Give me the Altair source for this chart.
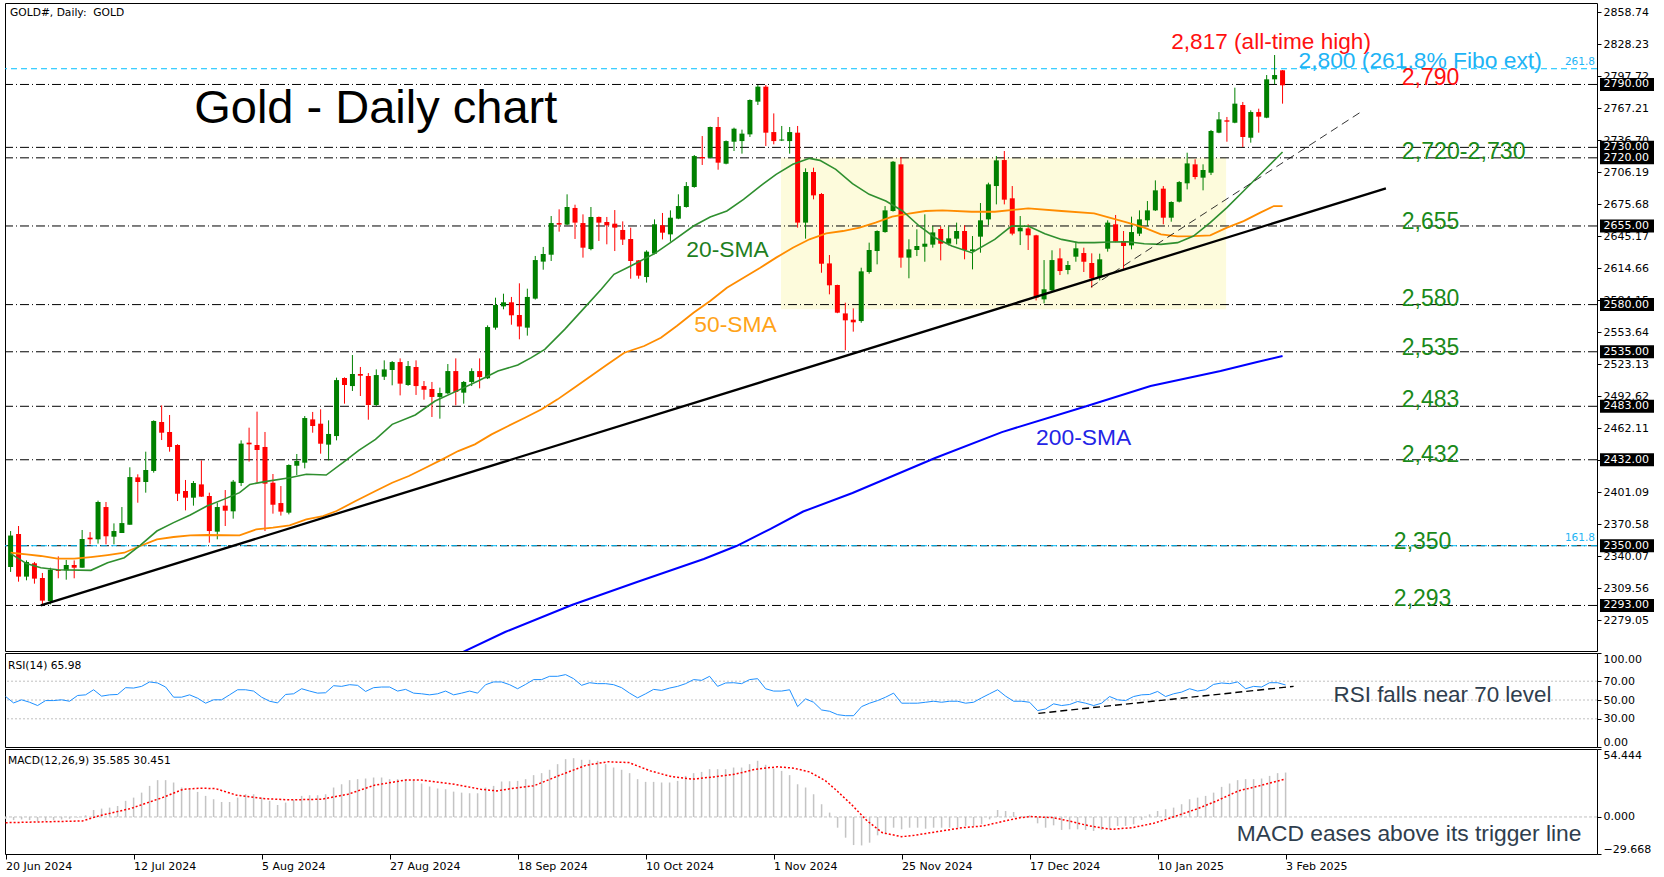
import altair as alt
import pandas as pd

# ---------------- data ----------------
# bar index 0 = 20 Jun 2024, one bar per weekday, last bar 160 = 3 Feb 2025
opens = [2329.7, 2361.2, 2320.5, 2333.2, 2319.2, 2297.2, 2326.8, 2326.5, 2331.6, 2329.0,
         2357.7, 2356.1, 2386.9, 2358.6, 2362.1, 2370.0, 2415.2, 2410.8, 2421.3, 2468.0,
         2458.5, 2446.1, 2402.2, 2395.8, 2408.5, 2397.4, 2363.4, 2388.2, 2382.8, 2409.8,
         2448.3, 2446.1, 2444.2, 2410.1, 2390.7, 2381.5, 2426.3, 2429.2, 2470.5, 2466.4,
         2446.4, 2454.6, 2510.0, 2502.3, 2513.8, 2511.9, 2484.2, 2511.2, 2517.6, 2525.2,
         2503.3, 2520.5, 2502.3, 2499.5, 2491.9, 2495.4, 2516.6, 2496.0, 2506.2, 2516.6,
         2509.7, 2558.0, 2578.3, 2582.2, 2570.1, 2558.0, 2585.7, 2621.0, 2627.6, 2657.8,
         2656.3, 2672.2, 2657.8, 2633.0, 2663.6, 2658.8, 2657.2, 2651.2, 2642.6, 2622.2,
         2606.3, 2628.6, 2655.6, 2647.0, 2662.0, 2673.1, 2692.2, 2720.8, 2720.2, 2749.4,
         2714.4, 2735.4, 2736.0, 2742.4, 2773.6, 2787.9, 2744.6, 2736.5, 2736.0, 2744.0,
         2658.2, 2706.5, 2685.5, 2619.3, 2598.7, 2571.6, 2565.6, 2564.3, 2611.1, 2631.1,
         2649.2, 2669.3, 2713.8, 2624.8, 2632.1, 2635.2, 2637.2, 2652.1, 2638.1, 2642.9,
         2650.2, 2631.1, 2644.8, 2661.3, 2693.1, 2717.9, 2681.4, 2649.9, 2652.7, 2646.1,
         2585.0, 2593.6, 2624.1, 2613.0, 2625.7, 2629.2, 2619.7, 2606.3, 2633.3, 2656.6,
         2640.7, 2636.5, 2647.7, 2660.4, 2669.9, 2690.6, 2662.9, 2678.2, 2695.7, 2713.8,
         2701.1, 2705.8, 2744.0, 2755.8, 2753.5, 2770.4, 2739.2, 2763.7, 2758.3, 2794.9,
         2803.5]
highs = [2364.0, 2368.8, 2336.0, 2334.5, 2324.0, 2329.0, 2339.8, 2336.4, 2336.0, 2365.0,
         2363.0, 2393.0, 2391.7, 2371.3, 2386.9, 2424.8, 2418.1, 2439.7, 2469.6, 2483.9,
         2474.7, 2446.8, 2412.7, 2411.7, 2431.4, 2400.6, 2391.0, 2403.1, 2412.7, 2450.5,
         2462.6, 2477.9, 2458.5, 2418.4, 2406.9, 2427.6, 2437.5, 2473.7, 2477.6, 2480.1,
         2469.6, 2510.3, 2510.6, 2531.9, 2520.5, 2514.7, 2518.2, 2526.8, 2526.2, 2528.7,
         2526.2, 2526.8, 2507.1, 2506.2, 2500.8, 2523.3, 2528.7, 2507.1, 2519.2, 2528.7,
         2560.2, 2586.6, 2590.4, 2587.3, 2600.3, 2595.2, 2626.4, 2635.0, 2664.5, 2670.9,
         2685.2, 2675.3, 2666.1, 2673.1, 2664.0, 2663.6, 2670.2, 2659.4, 2653.4, 2622.5,
         2631.8, 2661.3, 2667.4, 2669.9, 2685.2, 2696.9, 2722.7, 2740.8, 2749.8, 2759.0,
         2736.6, 2748.8, 2746.9, 2775.8, 2789.5, 2789.5, 2762.4, 2750.4, 2749.4, 2750.4,
         2710.0, 2710.6, 2686.4, 2627.3, 2599.0, 2581.8, 2576.4, 2615.2, 2639.1, 2650.8,
         2674.0, 2717.0, 2720.8, 2642.3, 2651.8, 2666.1, 2655.0, 2654.6, 2654.6, 2658.2,
         2655.6, 2645.4, 2676.9, 2696.3, 2721.7, 2726.5, 2693.1, 2664.5, 2656.6, 2646.6,
         2622.5, 2631.8, 2633.7, 2621.6, 2640.0, 2634.3, 2628.9, 2628.6, 2660.4, 2665.5,
         2650.2, 2663.9, 2669.9, 2678.8, 2698.5, 2693.1, 2678.5, 2697.8, 2724.9, 2718.6,
         2713.8, 2746.6, 2763.7, 2759.0, 2786.9, 2773.3, 2765.3, 2766.9, 2799.0, 2818.1,
         2803.8]
lows = [2325.0, 2315.7, 2317.0, 2313.8, 2294.0, 2294.0, 2318.9, 2317.6, 2318.9, 2329.0,
        2351.3, 2352.0, 2351.3, 2351.3, 2362.1, 2370.0, 2391.0, 2400.6, 2419.7, 2450.8,
        2439.7, 2392.6, 2383.7, 2388.2, 2396.5, 2352.9, 2356.1, 2368.8, 2375.8, 2406.9,
        2430.2, 2410.1, 2364.0, 2380.6, 2378.7, 2379.9, 2417.4, 2423.8, 2457.8, 2437.8,
        2431.4, 2450.5, 2485.5, 2497.6, 2492.8, 2470.2, 2483.3, 2508.1, 2503.0, 2493.4,
        2502.5, 2493.8, 2489.3, 2472.8, 2471.2, 2494.6, 2483.9, 2485.5, 2502.3, 2500.1,
        2509.0, 2556.1, 2575.5, 2560.8, 2546.9, 2550.4, 2584.8, 2613.3, 2621.6, 2649.6,
        2655.7, 2642.6, 2624.8, 2631.8, 2640.7, 2637.5, 2631.1, 2636.9, 2604.7, 2604.7,
        2601.0, 2628.0, 2642.2, 2640.0, 2661.5, 2672.5, 2691.5, 2713.2, 2719.6, 2708.7,
        2713.8, 2726.5, 2724.0, 2739.9, 2770.4, 2731.3, 2732.9, 2736.0, 2724.0, 2653.4,
        2642.9, 2680.4, 2610.4, 2589.8, 2571.8, 2536.4, 2554.2, 2562.7, 2609.5, 2618.4,
        2648.6, 2668.7, 2615.2, 2605.1, 2626.3, 2620.9, 2634.3, 2622.2, 2636.5, 2637.5,
        2623.2, 2613.6, 2629.5, 2655.9, 2675.6, 2675.6, 2646.1, 2636.8, 2632.1, 2584.0,
        2581.2, 2593.0, 2608.2, 2608.9, 2620.9, 2611.1, 2596.1, 2603.1, 2630.5, 2639.5,
        2613.6, 2632.7, 2645.4, 2655.0, 2669.3, 2656.6, 2659.1, 2677.5, 2689.9, 2699.5,
        2689.0, 2703.6, 2743.5, 2735.4, 2753.0, 2730.3, 2734.5, 2744.0, 2757.8, 2790.1,
        2771.7]
closes = [2359.7, 2320.5, 2334.5, 2318.6, 2297.6, 2327.1, 2325.9, 2331.6, 2329.0, 2356.4,
          2356.1, 2391.7, 2359.0, 2364.0, 2371.6, 2415.5, 2410.8, 2422.2, 2469.0, 2457.8,
          2444.2, 2399.6, 2395.8, 2409.8, 2396.8, 2364.0, 2386.9, 2383.4, 2411.1, 2447.4,
          2446.7, 2441.3, 2409.2, 2389.1, 2382.5, 2427.0, 2430.8, 2471.8, 2464.2, 2447.3,
          2456.6, 2508.0, 2503.3, 2513.8, 2512.2, 2484.2, 2512.8, 2518.2, 2525.2, 2504.6,
          2521.4, 2502.3, 2498.8, 2491.9, 2495.7, 2516.6, 2496.6, 2506.2, 2516.6, 2510.9,
          2558.6, 2579.6, 2582.2, 2569.8, 2559.0, 2587.3, 2622.5, 2628.3, 2657.8, 2656.3,
          2673.1, 2658.2, 2634.3, 2663.6, 2658.2, 2655.6, 2653.4, 2642.0, 2621.6, 2607.6,
          2630.5, 2656.6, 2648.6, 2662.9, 2674.0, 2693.1, 2721.7, 2719.5, 2749.4, 2715.4,
          2736.0, 2747.8, 2743.1, 2775.2, 2787.9, 2744.0, 2736.0, 2737.5, 2744.6, 2658.2,
          2706.5, 2684.2, 2619.0, 2598.4, 2572.3, 2565.0, 2563.1, 2611.7, 2632.1, 2650.2,
          2669.9, 2716.3, 2624.8, 2632.7, 2635.9, 2638.1, 2648.9, 2638.1, 2643.2, 2650.2,
          2632.1, 2632.7, 2660.4, 2694.7, 2717.6, 2680.1, 2647.7, 2653.4, 2646.1, 2586.6,
          2594.6, 2622.5, 2612.0, 2617.8, 2633.7, 2620.9, 2605.0, 2623.2, 2658.2, 2640.0,
          2635.9, 2649.2, 2661.3, 2669.9, 2689.0, 2662.9, 2677.9, 2696.9, 2714.7, 2701.7,
          2708.4, 2745.6, 2756.7, 2754.5, 2771.7, 2739.9, 2763.7, 2759.3, 2794.9, 2799.0,
          2789.2]

sma20_bar = [0, 2, 3.8, 5.9, 10.1, 12.2, 14.3, 16.3, 18.4, 20.5, 22.6, 24.7, 26.8, 28.8, 30.1,
             32, 35.1, 37.2, 39.7, 41.8, 43.8, 45.9, 48, 50.9, 53.4, 56.3, 58.8, 61.3, 63.8, 65.5,
             67.2, 69.7, 72.2, 74.3, 75.9, 78, 81, 83, 85.9, 88, 90.1, 92.2, 94.3, 96.3, 98.4,
             100.5, 101.8, 103.8, 105.9, 108, 110.1, 112.2, 114.3, 116.3, 118.4, 120.9, 123.8,
             125.9, 128, 130.1, 132.2, 134.3, 136.3, 138.4, 140.5, 142.6, 144.7, 146.8, 148.8,
             150.9, 153, 155.1, 157.2, 160]
sma20_val = [2342.4, 2332.9, 2329.0, 2327.1, 2326.5, 2333.8, 2338.6, 2350.3, 2364.0, 2372.0,
             2379.3, 2387.9, 2394.2, 2400.6, 2408.5, 2411.1, 2414.9, 2418.1, 2417.4, 2429.2,
             2441.0, 2451.5, 2465.8, 2474.7, 2488.0, 2498.2, 2507.1, 2516.6, 2522.4, 2529.4,
             2537.3, 2556.4, 2577.1, 2594.6, 2608.9, 2616.8, 2628.6, 2639.1, 2655.0, 2663.6,
             2669.3, 2680.4, 2693.1, 2704.3, 2713.8, 2719.5, 2717.6, 2709.0, 2695.4, 2685.2,
             2678.8, 2669.3, 2655.0, 2643.8, 2635.9, 2629.5, 2642.2, 2654.9, 2654.9, 2647.7,
             2642.2, 2639.1, 2639.1, 2639.7, 2640.0, 2638.1, 2637.5, 2639.1, 2645.4, 2658.2,
             2672.5, 2688.4, 2704.3, 2725.6]

sma50_bar = [0, 2, 3.8, 5.9, 8, 10.1, 12.2, 14.3, 16.3, 18.4, 20.5, 22.6, 24.7, 28.8, 30.9,
             33, 35.1, 37.2, 39.3, 41, 43.4, 45.9, 48, 50.1, 52.2, 54.3, 56.3, 58.4, 60.5, 62.6,
             64.7, 66.8, 68.8, 70.9, 73, 75.1, 77.2, 79.7, 81.8, 83.8, 85.9, 88, 90.1, 92.2, 94.3,
             96.3, 98.4, 100.5, 102.6, 104.7, 106.8, 108.8, 110.9, 113, 115.1, 117.2, 120.9,
             123.8, 128, 132.2, 136.3, 140.5, 142.6, 144.7, 146.8, 148.8, 150.9, 153, 155.1,
             157.2, 158.9, 160]
sma50_val = [2343.3, 2341.7, 2340.2, 2337.6, 2337.6, 2339.2, 2341.1, 2343.3, 2349.7, 2356.1,
             2358.3, 2359.9, 2360.2, 2359.9, 2365.6, 2367.2, 2369.4, 2375.1, 2378.3, 2383.1,
             2392.6, 2402.2, 2410.1, 2416.5, 2424.4, 2432.4, 2440.3, 2446.7, 2456.2, 2464.2,
             2472.1, 2480.1, 2489.6, 2500.7, 2511.9, 2523.0, 2534.1, 2540.5, 2548.4, 2559.6,
             2572.3, 2583.4, 2596.1, 2605.7, 2615.2, 2624.8, 2634.3, 2642.3, 2648.0, 2650.2,
             2653.4, 2658.2, 2663.9, 2666.7, 2669.3, 2669.9, 2668.6, 2668.6, 2671.8, 2669.3,
             2667.0, 2658.1, 2653.4, 2647.0, 2645.1, 2645.4, 2646.1, 2653.4, 2659.7, 2667.7,
             2674.0, 2674.0]

sma200_bar = [55.0, 56.9, 62.2, 70.6, 78.8, 87.2, 91.3, 95.6, 99.7, 105.9, 116.3, 124.7,
              135.0, 143.4, 152.2, 156.8, 160]
sma200_val = [2240.0, 2248.6, 2267.7, 2293.4, 2315.4, 2337.3, 2349.7, 2366.0, 2382.6, 2400.3,
              2433.7, 2458.4, 2482.3, 2502.3, 2516.6, 2525.2, 2530.9]

trend_bar = [3.8, 173.0]
trend_val = [2293.0, 2690.9]
short_trend_bar = [135.9, 169.9]
short_trend_val = [2596.8, 2764.0]

zone_bar = [96.9, 152.9]
zone_price = [2575.5, 2720.0]

level_lines = [2790, 2730, 2720, 2655, 2580, 2535, 2483, 2432, 2350, 2293]
fibo_lines = [2805, 2350]
fibo_tags = ["261.8", "161.8"]
fibo_tag_price = [2811.4, 2357.7]

price_ticks = [2858.74, 2828.23, 2797.72, 2767.21, 2736.70, 2706.19, 2675.68, 2645.17,
               2614.66, 2584.15, 2553.64, 2523.13, 2492.62, 2462.11, 2431.60, 2401.09,
               2370.58, 2340.07, 2309.56, 2279.05]

ann_text = ["2,817 (all-time high)", "2,800 (261.8% Fibo ext)", "2,790", "2,720-2,730",
            "2,655", "2,580", "2,535", "2,483", "2,432", "2,350", "2,293",
            "20-SMA", "50-SMA", "200-SMA"]
ann_bar = [146.0, 162.0, 175.0, 175.0, 175.0, 175.0, 175.0, 175.0, 175.0, 174.0, 174.0,
           85.0, 86.0, 129.0]
ann_price = [2830.7, 2812.2, 2796.5, 2725.1, 2658.8, 2585.0, 2538.4, 2489.0, 2436.8,
             2353.7, 2298.7, 2631.9, 2560.5, 2452.8]
ann_color = ["#ff1010", "#1eb4f5", "#ff1010", "#1a8a1a", "#1a8a1a", "#1a8a1a", "#1a8a1a",
             "#1a8a1a", "#1a8a1a", "#1a8a1a", "#1a8a1a", "#1f7f1f", "#ffa318", "#2424e6"]
ann_size = [22.6, 22.8, 23, 23.2, 23, 23, 23, 23, 23, 23, 23, 22.8, 22.8, 22.8]

rsi = [53.7, 46.9, 50.2, 47.6, 44.1, 49.4, 49.4, 50.2, 48.7, 54.8,
       55.5, 60.9, 54.1, 55.5, 55.9, 63.1, 62.7, 64.5, 69.2, 68.1,
       63.8, 53.0, 53.0, 55.5, 51.9, 46.6, 50.2, 50.2, 55.5, 60.9,
       60.9, 59.5, 53.0, 48.7, 46.9, 55.9, 56.6, 62.0, 59.5, 57.3,
       57.7, 65.2, 64.5, 66.3, 65.6, 59.1, 63.1, 63.8, 63.8, 59.5,
       61.3, 57.3, 56.6, 55.5, 56.6, 59.5, 55.5, 57.3, 59.5, 57.3,
       66.3, 69.2, 69.2, 66.3, 62.0, 66.6, 71.7, 71.7, 75.2, 75.2,
       77.0, 72.7, 65.6, 68.4, 67.4, 67.4, 66.3, 63.1, 57.3, 52.3,
       56.6, 61.3, 60.2, 62.7, 64.5, 67.4, 71.7, 70.9, 75.2, 64.5,
       68.1, 68.4, 67.4, 71.7, 72.7, 62.0, 59.5, 59.5, 60.9, 43.0,
       51.2, 47.6, 39.4, 38.0, 34.4, 33.3, 33.3, 43.0, 46.6, 49.4,
       53.0, 57.3, 46.6, 46.6, 46.6, 47.6, 48.7, 47.6, 48.7, 48.7,
       46.6, 47.6, 52.3, 56.6, 60.9, 54.1, 48.7, 48.7, 47.6, 38.7,
       40.5, 45.9, 44.1, 45.2, 48.4, 46.6, 44.1, 46.6, 53.7, 50.2,
       49.4, 53.7, 55.5, 55.9, 59.1, 53.7, 56.6, 58.4, 62.0, 59.5,
       60.9, 66.6, 68.1, 67.4, 69.2, 62.0, 64.5, 63.8, 68.4, 68.4,
       65.98]
rsi_levels = [30, 50, 70]
rsi_trend_bar = [129.1, 161.0]
rsi_trend_val = [35.8, 64.5]

macd_hist = [-1.5, -2.5, -2.0, -2.5, -3.5, -3.0, -2.5, -2.0, -1.5, -0.5,
             1.3, 5.6, 6.7, 7.5, 8.8, 12.9, 15.5, 19.5, 24.9, 29.5,
             29.5, 27.6, 23.6, 22.2, 20.1, 16.9, 14.2, 12.0, 12.0, 15.5,
             18.2, 18.2, 15.5, 12.9, 9.6, 11.5, 13.7, 16.9, 17.4, 17.4,
             18.2, 23.6, 26.2, 29.5, 30.3, 30.8, 31.6, 31.6, 30.3, 30.3,
             30.3, 29.5, 26.8, 24.4, 22.8, 22.2, 20.3, 19.5, 19.0, 19.0,
             23.6, 24.9, 28.4, 28.6, 28.9, 30.3, 33.5, 35.1, 37.8, 42.3,
             46.3, 47.1, 45.8, 45.8, 45.0, 42.3, 39.6, 37.8, 35.1, 30.3,
             28.1, 28.1, 27.6, 27.6, 28.9, 32.9, 35.1, 36.1, 38.3, 38.3,
             38.3, 39.6, 39.6, 42.3, 45.0, 41.8, 38.8, 36.9, 33.5, 26.2,
             23.6, 18.2, 10.2, 3.5, -8.6, -16.6, -22.5, -22.8, -20.6, -14.7,
             -13.9, -8.6, -9.9, -8.6, -8.6, -9.4, -8.6, -8.6, -8.6, -8.6,
             -7.2, -7.2, -5.9, -1.9, 5.6, 4.8, 4.0, 0.8, 1.3, -5.1,
             -8.6, -6.7, -10.4, -9.9, -9.9, -10.4, -11.2, -10.4, -9.4, -7.2,
             -7.2, -5.9, -2.4, 2.1, 4.8, 6.2, 7.5, 10.2, 14.2, 15.5,
             16.9, 19.5, 24.1, 26.8, 29.5, 30.3, 30.3, 30.8, 32.9, 35.1,
             35.585]
signal_bar = [0, 9.6, 11.6, 15.6, 19.6, 22.2, 24.2, 26.2, 28.9, 32.2, 35.5, 39.5, 42.8, 46.1,
              50.1, 52.1, 56.1, 59.4, 61.4, 63.3, 66, 69.3, 72.6, 75.3, 77.9, 80.6, 83.2, 85.9,
              88.5, 91.2, 93.8, 96.5, 98.5, 100.5, 102.5, 103.7, 105.7, 107.7, 109.6, 112,
              113.6, 117, 119.6, 122.2, 124.9, 126.9, 128.2, 130.9, 132.9, 135.5, 138.2, 140.8,
              143.5, 146.1, 148.8, 151.4, 154.1, 156.7, 160]
signal_val = [-4.6, -3.2, 0.8, 6.7, 15.5, 22.2, 23.0, 22.8, 17.4, 14.7, 13.7, 14.2, 18.2, 25.4,
              29.7, 29.5, 26.2, 22.2, 20.9, 22.8, 24.9, 33.5, 41.5, 44.2, 43.6, 36.9, 32.4, 30.3,
              32.1, 34.3, 38.3, 40.2, 39.1, 36.1, 28.9, 22.2, 10.2, -3.2, -12.6, -15.8,
              -14.7, -11.2, -8.6, -7.2, -3.2, -0.5, 0.3, -0.5, -3.2, -7.2, -9.9, -8.6,
              -5.1, 0.3, 6.2, 12.9, 20.9, 24.9, 30.451]

date_ticks = [0, 16, 32, 48, 64, 80, 96, 112, 128, 144, 160]
date_labels = ["20 Jun 2024", "12 Jul 2024", "5 Aug 2024", "27 Aug 2024", "18 Sep 2024",
               "10 Oct 2024", "1 Nov 2024", "25 Nov 2024", "17 Dec 2024", "10 Jan 2025",
               "3 Feb 2025"]

# ---------------- layout / style ----------------
W = 1592
H_MAIN, H_RSI, H_MACD = 648, 94, 105
BIG = "Liberation Sans"
SMALL = "DejaVu Sans"
GREEN, RED = "#008000", "#ff0000"
CYAN = "#00bfff"
NOTE = "#2f3e4e"

xs = alt.Scale(domain=[-0.075, 198.925], nice=False, zero=False)
ys = alt.Scale(domain=[2249.56, 2867.71], nice=False, zero=False)
rs = alt.Scale(domain=[0, 100], nice=False, zero=False)
ms = alt.Scale(domain=[-29.668, 54.444], nice=False, zero=False)

def side_axis(values, fmt, flush=False):
    kw = dict(orient="right", values=values, format=fmt, title=None, grid=False, domain=False,
              tickSize=4, tickColor="black", labelFont=SMALL, labelFontSize=11,
              labelColor="black", labelPadding=2, labelOverlap=False)
    if flush:
        kw["labelFlush"] = True
    return alt.Axis(**kw)

MAIN_AX = side_axis(price_ticks, ".2f")
RSI_AX = side_axis([0, 30, 50, 70, 100], ".2f", flush=True)
MACD_AX = side_axis([-29.668, 0, 54.444], ".3f", flush=True)
label_expr = "[" + ",".join("'%s'" % s for s in date_labels) + "][indexof([" + \
    ",".join(str(t) for t in date_ticks) + "], datum.value)]"
DATE_AX = alt.Axis(values=date_ticks, labelExpr=label_expr, title=None, grid=False, domain=False,
                   tickSize=5, tickColor="black", labelFont=SMALL, labelFontSize=11,
                   labelColor="black", labelAlign="left", labelPadding=1, labelOverlap=False)

def XB(f):
    return alt.X(f, type="quantitative", scale=xs, axis=None)

def XD(f):
    return alt.X(f, type="quantitative", scale=xs, axis=DATE_AX)

def YM(f):
    return alt.Y(f, type="quantitative", scale=ys, axis=MAIN_AX)

def YR(f):
    return alt.Y(f, type="quantitative", scale=rs, axis=RSI_AX)

def YC(f):
    return alt.Y(f, type="quantitative", scale=ms, axis=MACD_AX)

# ---------------- main panel ----------------
n = min(len(opens), len(highs), len(lows), len(closes))
candles = pd.DataFrame({
    "bar": list(range(n)), "open": opens[:n], "high": highs[:n],
    "low": lows[:n], "close": closes[:n],
})
candles["dir"] = ["up" if c >= o else "down" for o, c in zip(candles["open"], candles["close"])]
ccol = alt.Color("dir:N", scale=alt.Scale(domain=["up", "down"], range=[GREEN, RED]), legend=None)

zone = alt.Chart(pd.DataFrame({"b1": [zone_bar[0]], "b2": [zone_bar[1]],
                               "p1": [zone_price[0]], "p2": [zone_price[1]]})).mark_rect(
    color="#fdfbdc").encode(x=XB("b1"), x2="b2", y=YM("p1"), y2="p2")

levels = alt.Chart(pd.DataFrame({"p": level_lines})).mark_rule(
    color="black", strokeWidth=1, strokeDash=[9, 3, 1, 3]).encode(y=YM("p"))
fibo = alt.Chart(pd.DataFrame({"p": fibo_lines})).mark_rule(
    color=CYAN, strokeWidth=1, strokeDash=[6, 4]).encode(y=YM("p"))
fibo_txt = alt.Chart(pd.DataFrame({"p": fibo_tag_price, "t": fibo_tags})).mark_text(
    color="#1eb4f5", font=SMALL, fontSize=10.5, align="right", baseline="middle").encode(
    x=alt.value(W - 2), y=YM("p"), text="t:N")

wicks = alt.Chart(candles).mark_rule(strokeWidth=1).encode(
    x=XB("bar"), y=YM("low"), y2="high", color=ccol)
bodies = alt.Chart(candles).mark_bar(size=5).encode(
    x=XB("bar"), y=YM("open"), y2="close", color=ccol)

def line_layer(bars, vals, color, width, dash=None, clip=False):
    kw = dict(color=color, strokeWidth=width, clip=clip)
    if dash:
        kw["strokeDash"] = dash
    return alt.Chart(pd.DataFrame({"bar": bars, "v": vals})).mark_line(**kw).encode(
        x=XB("bar"), y=YM("v"))

sma20 = line_layer(sma20_bar, sma20_val, "#2f8f2f", 1.6)
sma50 = line_layer(sma50_bar, sma50_val, "#ff8c00", 1.8)
sma200 = line_layer(sma200_bar, sma200_val, "#0000ff", 2.0, clip=True)
trend = line_layer(trend_bar, trend_val, "black", 2.3)
short_trend = line_layer(short_trend_bar, short_trend_val, "black", 0.8, dash=[8, 5])

ann = alt.Chart(pd.DataFrame({"t": ann_text, "bar": ann_bar, "p": ann_price,
                              "c": ann_color, "s": ann_size})).mark_text(
    font=BIG, align="left", baseline="middle").encode(
    x=XB("bar"), y=YM("p"), text="t:N", color=alt.Color("c:N", scale=None),
    size=alt.Size("s:Q", scale=None))

title = alt.Chart(pd.DataFrame({"t": ["Gold - Daily chart"], "bar": [23.1], "p": [2753.2]})).mark_text(
    font=BIG, fontSize=47, align="left", baseline="alphabetic", color="black").encode(
    x=XB("bar"), y=YM("p"), text="t:N")

sym = alt.Chart(pd.DataFrame({"t": ["GOLD#, Daily:\u00a0 GOLD"]})).mark_text(
    font=SMALL, fontSize=10.7, align="left", baseline="middle", color="black").encode(
    x=alt.value(5), y=alt.value(9.5), text="t:N")

box_df = pd.DataFrame({"p": level_lines, "lbl": ["%.2f" % v for v in level_lines]})
boxes = alt.Chart(box_df).mark_rule(color="black", strokeWidth=13, strokeCap="butt").encode(
    x=alt.value(W + 3), x2=alt.value(W + 57), y=YM("p"))
box_txt = alt.Chart(box_df).mark_text(
    color="white", font=SMALL, fontSize=11, align="left", baseline="middle").encode(
    x=alt.value(W + 6.5), y=YM("p"), text="lbl:N")

main = alt.layer(zone, levels, fibo, wicks, bodies, sma200, sma50, sma20, trend, short_trend,
                 fibo_txt, ann, title, sym, boxes, box_txt).properties(width=W, height=H_MAIN)

# ---------------- RSI panel ----------------
rsi_df = pd.DataFrame({"bar": list(range(len(rsi))), "v": rsi})
rsi_lv = alt.Chart(pd.DataFrame({"v": rsi_levels})).mark_rule(
    color="#c0c0c0", strokeWidth=1, strokeDash=[2, 2]).encode(y=YR("v"))
rsi_line = alt.Chart(rsi_df).mark_line(color="#1e90ff", strokeWidth=1).encode(x=XB("bar"), y=YR("v"))
rsi_tr = alt.Chart(pd.DataFrame({"bar": rsi_trend_bar, "v": rsi_trend_val})).mark_line(
    color="black", strokeWidth=1.4, strokeDash=[7, 4]).encode(x=XB("bar"), y=YR("v"))
rsi_lbl = alt.Chart(pd.DataFrame({"t": ["RSI(14) 65.98"]})).mark_text(
    font=SMALL, fontSize=10.7, align="left", baseline="middle", color="black").encode(
    x=alt.value(3), y=alt.value(13), text="t:N")
rsi_note = alt.Chart(pd.DataFrame({"t": ["RSI falls near 70 level"], "bar": [166.0], "v": [55.0]})).mark_text(
    font=BIG, fontSize=22.4, align="left", baseline="middle", color=NOTE).encode(
    x=XB("bar"), y=YR("v"), text="t:N")
rsi_panel = alt.layer(rsi_lv, rsi_line, rsi_tr, rsi_lbl, rsi_note).properties(width=W, height=H_RSI)

# ---------------- MACD panel ----------------
macd_df = pd.DataFrame({"bar": list(range(len(macd_hist))), "v": macd_hist})
hist = alt.Chart(macd_df).mark_rule(color="#c4c4c4", strokeWidth=1.5).transform_calculate(
    zero="0").encode(x=XD("bar"), y=YC("v"), y2="zero:Q")
zero_line = alt.Chart(pd.DataFrame({"v": [0]})).mark_rule(
    color="#c0c0c0", strokeWidth=1, strokeDash=[3, 2]).encode(y=YC("v"))
signal = alt.Chart(pd.DataFrame({"bar": signal_bar, "v": signal_val})).mark_line(
    color="#ff0000", strokeWidth=1.5, strokeDash=[2, 2]).encode(x=XD("bar"), y=YC("v"))
macd_lbl = alt.Chart(pd.DataFrame({"t": ["MACD(12,26,9) 35.585 30.451"]})).mark_text(
    font=SMALL, fontSize=10.7, align="left", baseline="middle", color="black").encode(
    x=alt.value(3), y=alt.value(12), text="t:N")
macd_note = alt.Chart(pd.DataFrame({"t": ["MACD eases above its trigger line"], "bar": [153.9], "v": [-13.9]})).mark_text(
    font=BIG, fontSize=22.8, align="left", baseline="middle", color=NOTE).encode(
    x=XD("bar"), y=YC("v"), text="t:N")
macd_panel = alt.layer(hist, zero_line, signal, macd_lbl, macd_note).properties(width=W, height=H_MACD)

chart = alt.vconcat(main, rsi_panel, macd_panel, spacing=2, bounds="flush").properties(
    padding={"left": 2, "top": 2, "right": 0, "bottom": 0},
    background="white",
).configure_view(stroke="black", strokeWidth=1)

chart.save("out.html", embed_options={"renderer": "svg", "actions": False})
